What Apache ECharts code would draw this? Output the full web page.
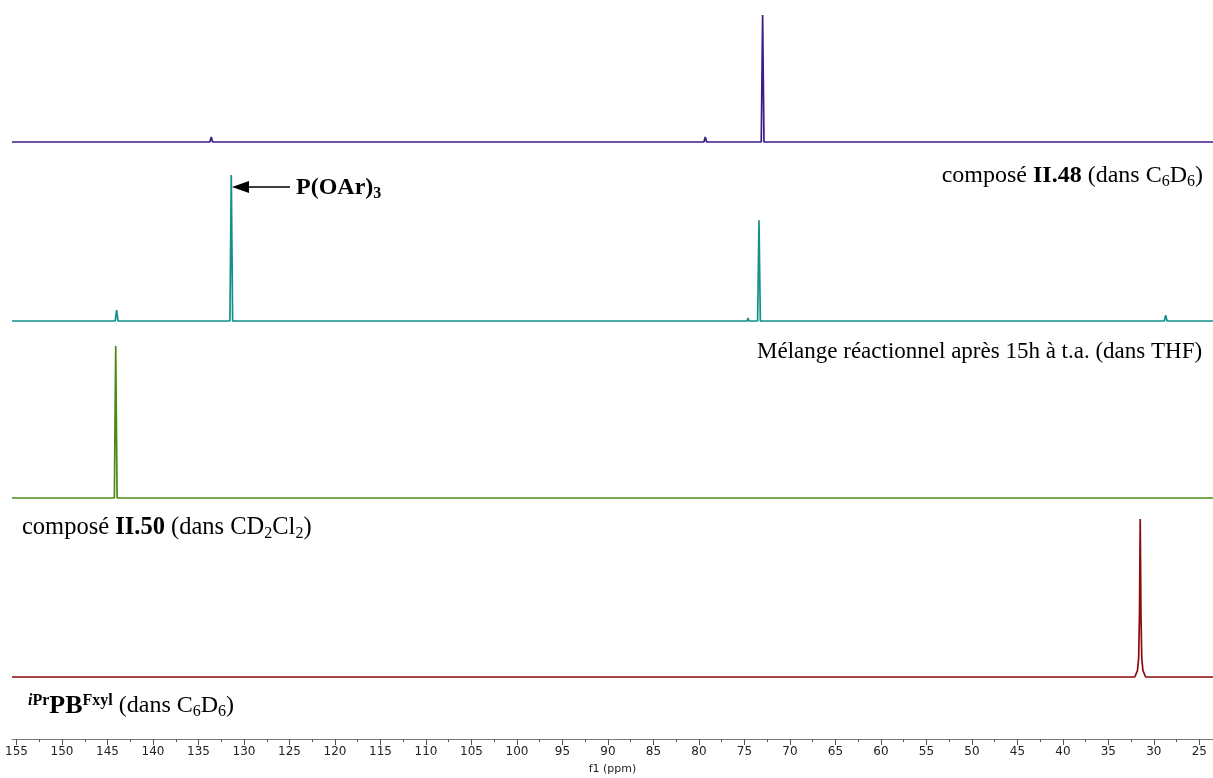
<!DOCTYPE html>
<html>
<head>
<meta charset="utf-8">
<script src="https://cdn.jsdelivr.net/npm/echarts@6/dist/echarts.min.js"></script>
<style>
  html, body { margin: 0; padding: 0; background: #fff; }
  #chart { width: 1213px; height: 778px; }
</style>
</head>
<body>
<div id="chart"></div>
<script>
// ppm window shown by the plot (axis is reversed, high ppm on the left)
const ppmLeft = 155.5;
const ppmRight = 23.5;

// tick positions / labels of the f1 axis
const majorTicks = [155, 150, 145, 140, 135, 130, 125, 120, 115, 110, 105, 100, 95, 90, 85, 80, 75, 70, 65, 60, 55, 50, 45, 40, 35, 30, 25];
const minorTicks = [152.5, 147.5, 142.5, 137.5, 132.5, 127.5, 122.5, 117.5, 112.5, 107.5, 102.5, 97.5, 92.5, 87.5, 82.5, 77.5, 72.5, 67.5, 62.5, 57.5, 52.5, 47.5, 42.5, 37.5, 32.5, 27.5];

// spectra : [ppm, intensity], intensity relative to the tallest line of each trace (=100)
const specII48 = [[155.5, 0], [133.75, 0], [133.6, 4], [133.45, 0], [79.45, 0], [79.3, 4], [79.15, 0], [73.15, 0], [73.0, 100], [72.85, 0], [23.5, 0]];
const specMelange = [[155.5, 0], [144.15, 0], [144.0, 7.5], [143.85, 0], [131.55, 0], [131.4, 100], [131.25, 0], [74.7, 0], [74.6, 2], [74.5, 0], [73.55, 0], [73.4, 69], [73.25, 0], [28.85, 0], [28.7, 4], [28.55, 0], [23.5, 0]];
const specII50 = [[155.5, 0], [144.25, 0], [144.1, 100], [143.95, 0], [23.5, 0]];
const specPB = [[155.5, 0], [32.1, 0], [31.8, 4], [31.67, 12], [31.58, 40], [31.5, 100], [31.42, 40], [31.33, 12], [31.2, 4], [30.9, 0], [23.5, 0]];

const traces = [
  { data: specII48, color: '#3f1a8c', top: 15, bottom: 636 },
  { data: specMelange, color: '#13908a', top: 175, bottom: 457 },
  { data: specII50, color: '#4a8a10', top: 346, bottom: 280 },
  { data: specPB, color: '#8b0c0c', top: 519, bottom: 101 }
];

const serif = '"Liberation Serif", "Times New Roman", serif';
const sans = '"DejaVu Sans", Verdana, sans-serif';

const chart = echarts.init(document.getElementById('chart'));

const grid = [];
const xAxis = [];
const yAxis = [];
const series = [];

traces.forEach((t, i) => {
  grid.push({ left: 12, right: 0, top: t.top, bottom: t.bottom });
  xAxis.push({ gridIndex: i, type: 'value', min: ppmRight, max: ppmLeft, inverse: true, show: false });
  yAxis.push({ gridIndex: i, type: 'value', min: 0, max: 100, show: false });
  series.push({
    type: 'line',
    xAxisIndex: i,
    yAxisIndex: i,
    data: t.data,
    symbol: 'none',
    clip: false,
    silent: true,
    lineStyle: { color: t.color, width: 1.7 },
    itemStyle: { color: t.color }
  });
});

// f1 axis (major ticks + labels)
grid.push({ left: 12, right: 0, top: 700, bottom: 39 });
xAxis.push({
  gridIndex: 4, type: 'value', min: ppmRight, max: ppmLeft, inverse: true, position: 'bottom',
  axisLine: { show: true, lineStyle: { color: '#7a7a7a', width: 1 } },
  axisTick: { show: true, customValues: majorTicks, length: 6, lineStyle: { color: '#555' } },
  axisLabel: { show: true, customValues: majorTicks, margin: 7, fontFamily: sans, fontSize: 12, color: '#222' },
  splitLine: { show: false },
  name: 'f1 (ppm)', nameLocation: 'middle', nameGap: 25,
  nameTextStyle: { fontFamily: sans, fontSize: 11, color: '#222' }
});
yAxis.push({ gridIndex: 4, type: 'value', min: 0, max: 1, show: false });

// minor ticks
grid.push({ left: 12, right: 0, top: 700, bottom: 39 });
xAxis.push({
  gridIndex: 5, type: 'value', min: ppmRight, max: ppmLeft, inverse: true, position: 'bottom',
  axisLine: { show: false },
  axisTick: { show: true, customValues: minorTicks, length: 3, lineStyle: { color: '#555' } },
  axisLabel: { show: false },
  splitLine: { show: false }
});
yAxis.push({ gridIndex: 5, type: 'value', min: 0, max: 1, show: false });

function richSet(size) {
  const sub = Math.round(size * 0.66);
  return {
    b: { fontFamily: serif, fontSize: size, fontWeight: 'bold', lineHeight: 27, fill: '#000' },
    s: { fontFamily: serif, fontSize: sub, lineHeight: sub, verticalAlign: 'bottom', fill: '#000' },
    bs: { fontFamily: serif, fontSize: sub, fontWeight: 'bold', lineHeight: sub, verticalAlign: 'bottom', fill: '#000' },
    sup: { fontFamily: serif, fontSize: sub, fontWeight: 'bold', lineHeight: sub, verticalAlign: 'top', fill: '#000' },
    supi: { fontFamily: serif, fontSize: sub, fontWeight: 'bold', fontStyle: 'italic', lineHeight: sub, verticalAlign: 'top', fill: '#000' },
    big: { fontFamily: serif, fontSize: size + 2, fontWeight: 'bold', lineHeight: 27, fill: '#000' }
  };
}

function label(x, y, text, align, size) {
  return {
    type: 'text', x: x, y: y, silent: true,
    style: {
      text: text, align: align, verticalAlign: 'middle',
      fontFamily: serif, fontSize: size, lineHeight: 27, fill: '#000', rich: richSet(size)
    }
  };
}

chart.setOption({
  animation: false,
  backgroundColor: '#fff',
  grid: grid,
  xAxis: xAxis,
  yAxis: yAxis,
  series: series,
  graphic: [
    label(1203, 176, 'composé {b|II.48} (dans C{s|6}D{s|6})', 'right', 24),
    label(757, 352, 'Mélange réactionnel après 15h à t.a. (dans THF)', 'left', 23),
    label(22, 528, 'composé {b|II.50} (dans CD{s|2}Cl{s|2})', 'left', 24.5),
    label(28, 706, '{supi|i}{sup|Pr}{big|PB}{sup|Fxyl} (dans C{s|6}D{s|6})', 'left', 24),
    label(296, 188, '{b|P(OAr)}{bs|3}', 'left', 24),
    { type: 'line', silent: true, shape: { x1: 290, y1: 187, x2: 245, y2: 187 }, style: { stroke: '#000', lineWidth: 1.5 } },
    { type: 'polygon', silent: true, shape: { points: [[232, 187], [249, 181], [249, 193]] }, style: { fill: '#000' } }
  ]
});
</script>
</body>
</html>
